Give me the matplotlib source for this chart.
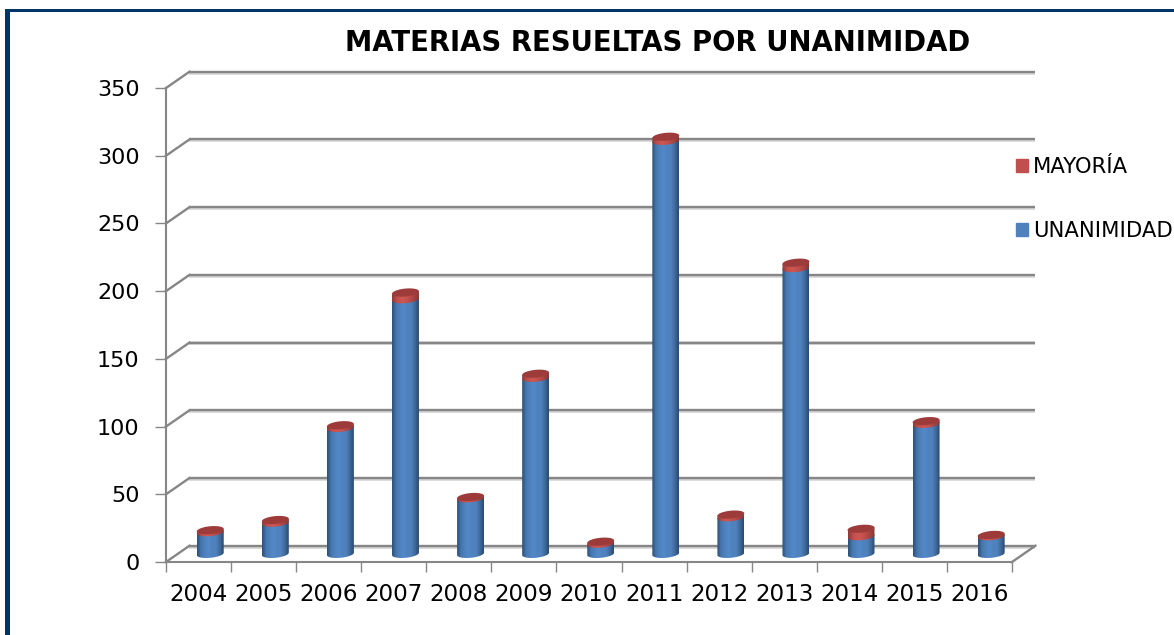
import matplotlib
matplotlib.use('Agg')
import matplotlib.pyplot as plt
import numpy as np
from matplotlib.patches import Polygon, Patch, Rectangle
from matplotlib.colors import LinearSegmentedColormap

# Datos
anios = ['2004', '2005', '2006', '2007', '2008', '2009', '2010',
         '2011', '2012', '2013', '2014', '2015', '2016']
unanimidad = [16, 23, 93, 188, 41, 130, 7.5, 305, 27, 211, 13, 96, 13]
mayoria = [1.5, 2, 2, 5, 1, 3, 1.5, 3, 2, 4, 5.5, 2, 1]
marcas_y = [0, 50, 100, 150, 200, 250, 300, 350]

W, H = 1174, 635
fig = plt.figure(figsize=(W / 100, H / 100), dpi=100, facecolor='white')
ax = fig.add_axes([166 / W, 1 - 562 / H, 846 / W, 474 / H])
ax.set_facecolor('none')

GRIS = '#868686'
# profundidad falsa del grafico 3D
DX, DY = 0.36, 12
x_ini, x_fin = -0.5, 12.5

# paredes
for v in marcas_y:
    ax.plot([x_ini + DX, x_fin + DX], [v + DY - 0.6, v + DY - 0.6], color='#d4d4d4', lw=2.6,
            clip_on=False, zorder=1, solid_capstyle='butt')
    ax.plot([x_ini + DX, x_fin + DX], [v + DY, v + DY], color=GRIS, lw=1.7,
            clip_on=False, zorder=1.1, solid_capstyle='butt')
    ax.plot([x_ini, x_ini + DX], [v, v + DY], color=GRIS, lw=1.7, clip_on=False, zorder=1.1)
ax.plot([x_fin, x_fin + DX], [0, DY], color=GRIS, lw=1.7, clip_on=False, zorder=1.1)

# cilindros con degradado
azul = LinearSegmentedColormap.from_list('azul', ['#2c5078', '#4576ad', '#4f81bd', '#5289c9', '#4f81bd', '#4f81bd', '#3f6a99', '#2a4a70'])
rojo = LinearSegmentedColormap.from_list('rojo', ['#8f3a38', '#c0504d', '#cf5653', '#c0504d', '#a84341', '#8a3634'])
degradado = np.linspace(0, 1, 64).reshape(1, -1)

MX, BASE, RX, RY, TILT = 0.18, 6, 0.207, 2.9, 0.9
t = np.linspace(0, 2 * np.pi, 80)


def elipse(cx, cy, ang):
    return cx + RX * np.cos(ang), cy + RY * np.sin(ang) + TILT * np.cos(ang)


def tramo(cx, y0, y1, cmap, z):
    ang = np.linspace(np.pi, 2 * np.pi, 40)
    xb, yb = elipse(cx, y0, ang)
    xt, yt = elipse(cx, y1, ang[::-1])
    poly = Polygon(np.column_stack([np.r_[xb, xt], np.r_[yb, yt]]), transform=ax.transData,
                   fc='none', ec='none')
    ax.add_patch(poly)
    im = ax.imshow(degradado, cmap=cmap, aspect='auto', interpolation='nearest', zorder=z,
                   extent=[cx - RX, cx + RX, y0 - RY - 2, y1 + RY + 2])
    im.set_clip_path(poly)


for i, (u, m) in enumerate(zip(unanimidad, mayoria)):
    cx = i + MX
    # se solapan un poco para que no quede costura entre tramos
    tramo(cx, BASE, BASE + u + 1, azul, 3)
    tramo(cx, BASE + u, BASE + u + m + 0.5, rojo, 3.1)
    xe, ye = elipse(cx, BASE + u + m, t)
    ax.fill(xe, ye, color='#9c3b39', lw=0, zorder=4, clip_on=False)

ax.set_xlim(x_ini, x_fin)
ax.set_ylim(0, 350)

for lado in ['top', 'right']:
    ax.spines[lado].set_visible(False)
for lado in ['left', 'bottom']:
    ax.spines[lado].set_color(GRIS)
    ax.spines[lado].set_linewidth(1.5)

ax.set_yticks(marcas_y)
ax.set_xticks(range(len(anios)))
ax.set_xticklabels(anios)
ax.set_xticks(np.arange(x_ini, x_fin + 1), minor=True)
ax.tick_params(axis='x', which='major', length=0, pad=15, labelsize=16.6)
ax.tick_params(axis='x', which='minor', length=7, width=1, color=GRIS)
ax.tick_params(axis='y', length=8, width=1, color=GRIS, pad=11, labelsize=16)

fig.text(658 / W, 1 - 43 / H, 'MATERIAS RESUELTAS POR UNANIMIDAD', ha='center', va='center',
         fontsize=19.8, fontweight='bold')

# leyenda
ax.legend(handles=[Patch(color='#c0504d', label='MAYORÍA'), Patch(color='#4f81bd', label='UNANIMIDAD')],
          loc='upper left', bbox_to_anchor=(1016 / W, 1 - 157 / H), bbox_transform=fig.transFigure,
          frameon=False, fontsize=15.2, handlelength=0.57, handleheight=0.57, handletextpad=0.23,
          labelspacing=2.1, borderpad=0, borderaxespad=0)

# marco azul
fig.add_artist(Rectangle((5 / W, 0), 5 / W, 1 - 9 / H, transform=fig.transFigure, color='#003366', lw=0))
fig.add_artist(Rectangle((5 / W, 1 - 12 / H), 1 - 5 / W, 3 / H, transform=fig.transFigure, color='#003366', lw=0))

fig.savefig('out.png', dpi=100)
